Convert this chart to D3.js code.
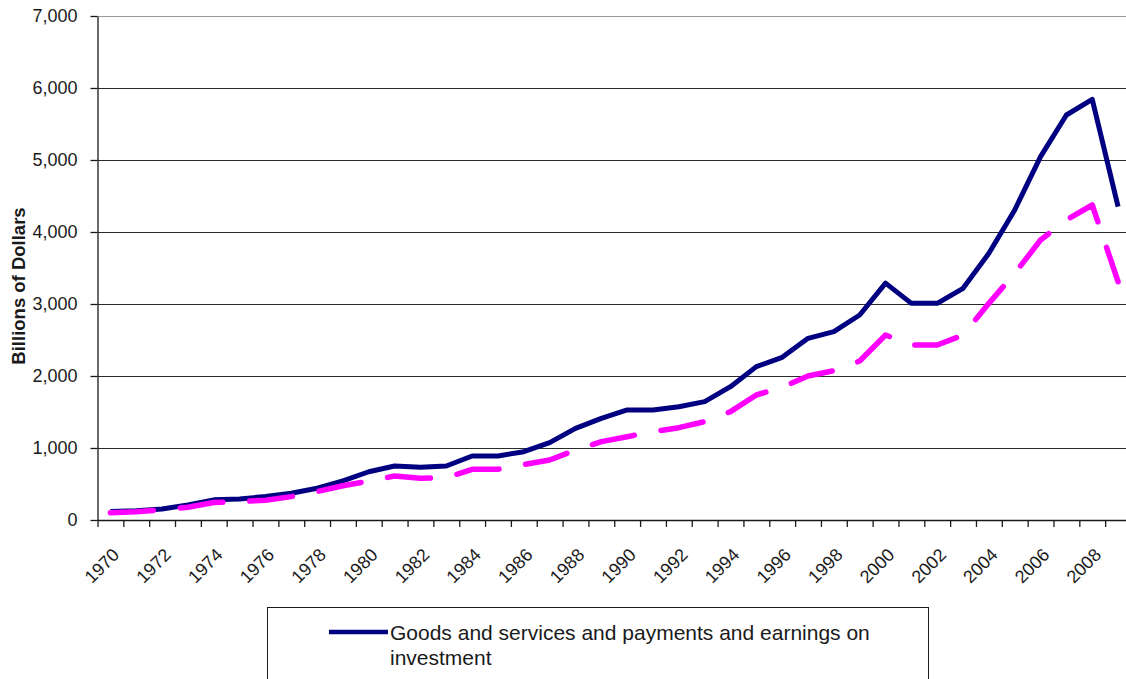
<!DOCTYPE html>
<html>
<head>
<meta charset="utf-8">
<script src="https://cdn.jsdelivr.net/npm/d3@7"></script>
<style>
  html, body { margin: 0; padding: 0; background: #fff; }
  svg { display: block; }
  text { font-family: "Liberation Sans", Arial, sans-serif; fill: #1a1a1a; }
</style>
</head>
<body>
<svg id="chart" width="1126" height="679"></svg>
<script>
// Years on the category axis
const years = d3.range(1970, 2010);

// Goods and services and payments and earnings on investment (billions of dollars)
const solidValues = [
  118, 128, 152, 210, 280, 293, 325, 372, 442, 544,
  670, 750, 731, 750, 889, 889, 949, 1074, 1273, 1412,
  1528, 1528, 1574, 1644, 1852, 2130, 2259, 2523, 2616, 2847,
  3290, 3009, 3009, 3218, 3704, 4306, 5046, 5625, 5843, 4352
];

// Second series, drawn dashed (billions of dollars)
const dashedValues = [
  102, 115, 140, 177, 242, 255, 275, 325, 395, 475,
  540, 611, 579, 588, 704, 704, 770, 833, 972, 1088,
  1157, 1227, 1282, 1366, 1505, 1736, 1843, 2000, 2074, 2208,
  2569, 2431, 2431, 2569, 3009, 3426, 3889, 4167, 4375, 3310
];

// Value axis ticks
const yTicks = [0, 1000, 2000, 3000, 4000, 5000, 6000, 7000];
// Year labels shown on the category axis
const yearLabels = years.filter(y => y % 2 === 0);

const legendLabel = ["Goods and services and payments and earnings on", "investment"];
const yTitle = "Billions of Dollars";

const svg = d3.select("#chart");
const W = 1126, H = 679;
const plot = { left: 97.5, right: 1131, top: 16, bottom: 520 };

const x = d3.scaleBand().domain(years).range([plot.left, plot.right]).padding(0);
const xEdge = d3.scaleLinear().domain([0, years.length]).range([plot.left, plot.right]);
const y = d3.scaleLinear().domain([0, 7000]).range([plot.bottom, plot.top]);
const cx = d => x(d) + x.bandwidth() / 2;

// Horizontal gridlines
svg.append("g")
  .selectAll("line")
  .data(yTicks.filter(t => t > 0 && t < 7000))
  .join("line")
  .attr("x1", plot.left).attr("x2", W)
  .attr("y1", d => Math.round(y(d)) + 0.5).attr("y2", d => Math.round(y(d)) + 0.5)
  .attr("stroke", "#2a2a2a").attr("stroke-width", 1.2);

// Plot area top border
svg.append("line")
  .attr("x1", plot.left).attr("x2", W)
  .attr("y1", Math.round(y(7000)) + 0.5).attr("y2", Math.round(y(7000)) + 0.5)
  .attr("stroke", "#9a9a9a").attr("stroke-width", 1);

// Value axis
const yAxis = svg.append("g")
  .attr("transform", `translate(${plot.left},0)`)
  .call(d3.axisLeft(y).tickValues(yTicks).tickSize(7).tickSizeOuter(0).tickFormat(d3.format(",")));
yAxis.select(".domain").attr("stroke", "#1a1a1a").attr("stroke-width", 1.3);
yAxis.selectAll(".tick line").attr("stroke", "#1a1a1a").attr("stroke-width", 1.3);
yAxis.selectAll(".tick text")
  .attr("x", -20)
  .attr("font-size", 18)
  .attr("font-family", "Liberation Sans, Arial, sans-serif")
  .attr("fill", "#1a1a1a");

// Category axis: tick marks sit between years
const xAxis = svg.append("g")
  .attr("transform", `translate(0,${plot.bottom})`)
  .call(d3.axisBottom(xEdge).tickValues(d3.range(0, years.length + 1)).tickSize(7).tickSizeOuter(0).tickFormat(""));
xAxis.select(".domain").attr("stroke", "#1a1a1a").attr("stroke-width", 1.3);
xAxis.selectAll(".tick line").attr("stroke", "#1a1a1a").attr("stroke-width", 1.3);

// Rotated year labels
svg.append("g")
  .selectAll("text")
  .data(yearLabels)
  .join("text")
  .attr("transform", d => `translate(${cx(d) + 10},${plot.bottom + 36}) rotate(-45)`)
  .attr("text-anchor", "end")
  .attr("font-size", 18)
  .text(d => d);

// Axis title
svg.append("text")
  .attr("transform", `translate(25,286) rotate(-90)`)
  .attr("text-anchor", "middle")
  .attr("font-size", 18.5)
  .attr("font-weight", "bold")
  .attr("fill", "#000")
  .text(yTitle);

// Series lines
const line = d3.line().x((d, i) => cx(years[i])).y(d => y(d));

svg.append("path")
  .datum(solidValues)
  .attr("d", line)
  .attr("fill", "none")
  .attr("stroke", "#000080")
  .attr("stroke-width", 5)
  .attr("stroke-linejoin", "round");

svg.append("path")
  .datum(dashedValues)
  .attr("d", line)
  .attr("fill", "none")
  .attr("stroke", "#ff00ff")
  .attr("stroke-width", 5.5)
  .attr("stroke-dasharray", "43,27")
  .attr("stroke-linecap", "round")
  .attr("stroke-linejoin", "round");

// Legend
const lg = svg.append("g");
lg.append("rect")
  .attr("x", 267.5).attr("y", 607.5)
  .attr("width", 661).attr("height", 110)
  .attr("fill", "#fff").attr("stroke", "#1a1a1a").attr("stroke-width", 1);
lg.append("line")
  .attr("x1", 329).attr("x2", 388)
  .attr("y1", 632).attr("y2", 632)
  .attr("stroke", "#000080").attr("stroke-width", 4.5);
lg.selectAll("text.lbl")
  .data(legendLabel)
  .join("text")
  .attr("class", "lbl")
  .attr("x", 390)
  .attr("y", (d, i) => 640 + i * 25)
  .attr("font-size", 21)
  .text(d => d);
</script>
</body>
</html>
